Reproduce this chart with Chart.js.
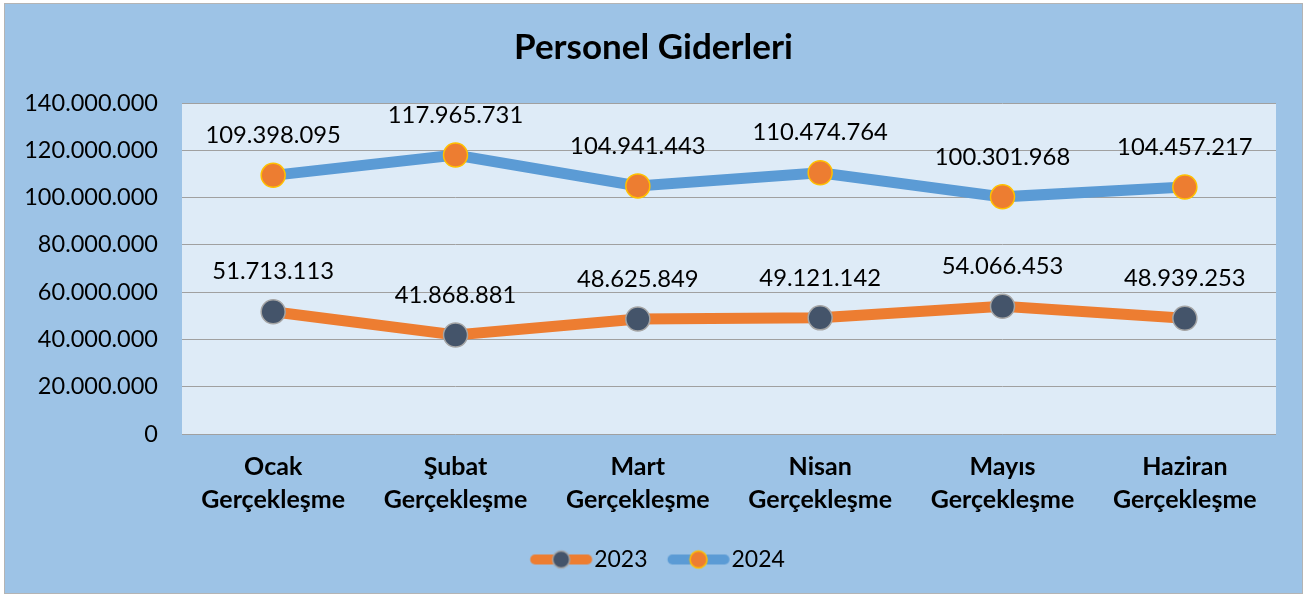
<!DOCTYPE html>
<html>
<head>
<meta charset="utf-8">
<script src="https://cdn.jsdelivr.net/npm/chart.js@4"></script>
<style>
    body { margin: 0; background: #ffffff; }
    #box {
        position: absolute; left: 4px; top: 3px;
        width: 1297px; height: 589px;
        border: 1px solid #b4b4b4;
        background: #9dc3e6;
    }
</style>
</head>
<body>
<div id="box"><canvas id="giderler" width="1297" height="589"></canvas></div>
<script>
// Personel Giderleri
const months = [
    ['Ocak', 'Gerçekleşme'],
    ['Şubat', 'Gerçekleşme'],
    ['Mart', 'Gerçekleşme'],
    ['Nisan', 'Gerçekleşme'],
    ['Mayıs', 'Gerçekleşme'],
    ['Haziran', 'Gerçekleşme']
];
const values2023 = [51713113, 41868881, 48625849, 49121142, 54066453, 48939253];
const values2024 = [109398095, 117965731, 104941443, 110474764, 100301968, 104457217];
const yTicks = [0, 20000000, 40000000, 60000000, 80000000, 100000000, 120000000, 140000000];

const fmt = v => String(v).replace(/\B(?=(\d{3})+(?!\d))/g, '.');

// legend symbol: thick line with a marker in the middle
// (drawn right of the image centre so it sits close to its text)
const legendSymbol = (lineColor, fill, border) => {
    const c = document.createElement('canvas');
    c.width = 82; c.height = 24;
    const g = c.getContext('2d');
    const cx = 49.75;
    g.strokeStyle = lineColor;
    g.lineWidth = 10;
    g.lineCap = 'round';
    g.beginPath(); g.moveTo(cx - 26, 12); g.lineTo(cx + 26, 12); g.stroke();
    g.beginPath(); g.arc(cx, 12, 8.5, 0, Math.PI * 2);
    g.fillStyle = fill; g.fill();
    g.lineWidth = 1.5; g.strokeStyle = border; g.stroke();
    return c;
};

// plot area fill
const plotBg = {
    id: 'plotBg',
    beforeDraw(chart) {
        const { ctx, chartArea: a } = chart;
        ctx.save();
        ctx.fillStyle = '#deebf7';
        ctx.fillRect(a.left, a.top, a.right - a.left, a.bottom - a.top);
        ctx.restore();
    }
};

// value labels above the points
const valueLabels = {
    id: 'valueLabels',
    afterDatasetsDraw(chart) {
        const ctx = chart.ctx;
        ctx.save();
        ctx.font = '23.8px Lato';
        ctx.fillStyle = '#000000';
        ctx.textAlign = 'center';
        ctx.textBaseline = 'middle';
        chart.data.datasets.forEach((ds, i) => {
            chart.getDatasetMeta(i).data.forEach((pt, j) => {
                ctx.fillText(fmt(ds.data[j]), pt.x, pt.y - 40);
            });
        });
        ctx.restore();
    }
};

new Chart('giderler', {
    type: 'line',
    data: {
        labels: months,
        datasets: [{
            label: '2023',
            data: values2023,
            borderColor: '#ed7d31',
            borderWidth: 11,
            pointRadius: 12,
            pointBackgroundColor: '#44546a',
            pointBorderColor: '#a5a5a5',
            pointBorderWidth: 1.5,
            tension: 0,
            symbol: legendSymbol('#ed7d31', '#44546a', '#a5a5a5')
        }, {
            label: '2024',
            data: values2024,
            borderColor: '#5b9bd5',
            borderWidth: 11,
            pointRadius: 12,
            pointBackgroundColor: '#ed7d31',
            pointBorderColor: '#ffc000',
            pointBorderWidth: 1.5,
            tension: 0,
            symbol: legendSymbol('#5b9bd5', '#ed7d31', '#ffc000')
        }]
    },
    options: {
        responsive: false,
        animation: false,
        layout: { padding: { left: 0, right: 0, top: 0, bottom: 12 } },
        plugins: {
            title: {
                display: true,
                text: 'Personel Giderleri',
                color: '#000000',
                font: { family: 'Lato', size: 35, weight: 'bold' },
                padding: { top: 23, bottom: 34 }
            },
            legend: {
                position: 'bottom',
                labels: {
                    usePointStyle: true,
                    pointStyleWidth: 60.5,
                    boxHeight: 23,
                    padding: 12,
                    color: '#000000',
                    font: { family: 'Lato', size: 23 },
                    generateLabels: chart => chart.data.datasets.map((ds, i) => ({
                        text: ds.label,
                        pointStyle: ds.symbol,
                        datasetIndex: i,
                        lineWidth: 0,
                        fontColor: '#000000'
                    }))
                }
            },
            tooltip: { enabled: false }
        },
        scales: {
            x: {
                offset: true,
                afterFit: s => { s.height = 102; },
                grid: { display: false, offset: true },
                border: { display: false },
                ticks: {
                    color: '#000000',
                    padding: 9,
                    font: { family: 'Lato', size: 25, weight: 'bold', lineHeight: 1.3 }
                }
            },
            y: {
                min: 0,
                max: 140000000,
                afterFit: s => { s.width = 177; },
                afterBuildTicks: s => { s.ticks = yTicks.map(v => ({ value: v })); },
                border: { display: false },
                grid: { color: '#a0a0a0', lineWidth: 1, drawTicks: false },
                ticks: {
                    color: '#000000',
                    padding: 24,
                    font: { family: 'Lato', size: 23.5 },
                    callback: v => fmt(v)
                }
            },
            // empty strip on the right, keeps title and legend centred on the whole box
            right: {
                position: 'right',
                afterFit: s => { s.width = 26; },
                grid: { display: false },
                border: { display: false },
                ticks: { display: false }
            }
        }
    },
    plugins: [plotBg, valueLabels]
});
</script>
</body>
</html>
